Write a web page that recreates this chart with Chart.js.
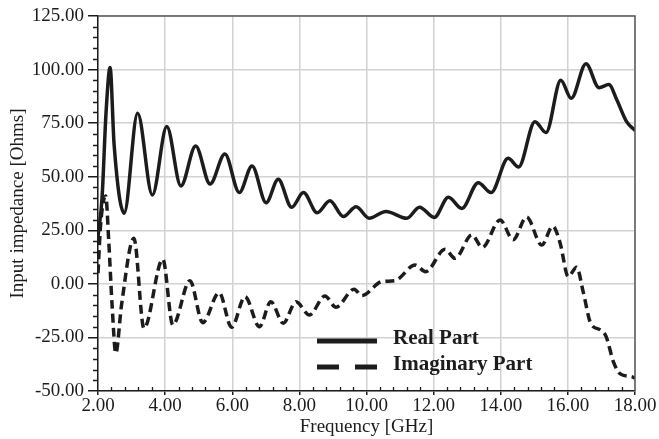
<!DOCTYPE html>
<html>
<head>
<meta charset="utf-8">
<title>Input impedance</title>
<script src="https://cdn.jsdelivr.net/npm/chart.js@4.4.1/dist/chart.umd.min.js"></script>
<style>
  html, body { margin: 0; padding: 0; background: #fff; }
  #wrap { width: 659px; height: 439px; }
</style>
</head>
<body>
<div id="wrap"><canvas id="impedanceChart" width="659" height="439"></canvas></div>
<script>
// Real part of the input impedance (GHz, Ohms)
const realFreq = [
  2.00, 2.12, 2.24, 2.36, 2.48, 2.78, 3.18, 3.62, 4.05, 4.47, 4.91, 5.34,
  5.78, 6.21, 6.59, 7.01, 7.37, 7.77, 8.12, 8.53, 8.91, 9.31, 9.69, 10.08,
  10.58, 11.20, 11.58, 12.02, 12.44, 12.84, 13.33, 13.71, 14.22, 14.53,
  15.02, 15.35, 15.79, 16.10, 16.54, 16.93, 17.22, 17.46, 17.75, 18.00
];
const realOhms = [
  22, 40, 80, 101, 65, 33, 79.6, 41.5, 73.4, 45.7, 64.3, 46.6,
  60.6, 42.6, 55.0, 37.9, 48.8, 35.7, 42.6, 33.2, 38.8, 31.4, 36.0, 30.6,
  33.8, 30.6, 35.8, 31.0, 40.4, 35.2, 47.2, 42.6, 58.6, 54.5,
  75.7, 70.6, 95.0, 86.6, 102.7, 91.5, 93.0, 85.8, 75.7, 71.6
];

// Imaginary part of the input impedance (GHz, Ohms)
const imagFreq = [
  2.00, 2.08, 2.23, 2.32, 2.42, 2.53, 2.70, 3.07, 3.37, 3.93, 4.23, 4.74,
  5.12, 5.61, 5.98, 6.38, 6.81, 7.15, 7.52, 7.90, 8.30, 8.76, 9.09, 9.63,
  9.86, 10.45, 10.85, 11.45, 11.76, 12.34, 12.64, 13.14, 13.45, 13.98,
  14.37, 14.77, 15.22, 15.55, 15.77, 16.01, 16.26, 16.46, 16.68, 16.98,
  17.14, 17.36, 17.56, 17.90, 18.00
];
const imagOhms = [
  5, 28, 41, 20, -10, -32.4, -10, 21.3, -20.8, 11.5, -19.2, 1.5,
  -18.1, -4.1, -20.3, -6.0, -20.0, -8.3, -18.4, -8.3, -14.5, -5.7, -10.9, -2.5,
  -5.5, 1.0, 1.5, 8.8, 5.7, 16.1, 11.9, 22.8, 17.0, 29.8,
  20.6, 31.2, 18.1, 26.9, 19.0, 3.4, 7.8, -4.0, -18.4, -21.6,
  -24.6, -36.5, -42.0, -43.3, -44.0
];

// Axis ticks
const freqTicks = [2, 4, 6, 8, 10, 12, 14, 16, 18];
const ohmTicks = [-50, -25, 0, 25, 50, 75, 100, 125];
const seriesNames = ["Real Part", "Imaginary Part"];

const ink = "#1c1c1c";
const tickFont = { family: "'Liberation Serif', 'DejaVu Serif', serif", size: 19 };

function toPoints(xs, ys) {
  return xs.map((x, i) => ({ x: x, y: ys[i] }));
}

// Minor ticks on both axes plus the dark frame on top and right
const frameTicks = {
  id: "frameTicks",
  afterDraw(chart) {
    const { ctx, chartArea: a, scales } = chart;
    const x = scales.x, y = scales.y;
    ctx.save();
    ctx.strokeStyle = ink;
    ctx.lineWidth = 1.3;
    ctx.beginPath();
    for (let v = -50; v <= 125; v += 5) {
      if (v % 25 === 0) continue;
      const py = Math.round(y.getPixelForValue(v)) + 0.5;
      ctx.moveTo(a.left - 5, py);
      ctx.lineTo(a.left, py);
    }
    for (let i = 0; i <= 40; i++) {
      if (i % 5 === 0) continue;
      const px = Math.round(x.getPixelForValue(2 + i * 0.4)) + 0.5;
      ctx.moveTo(px, a.bottom);
      ctx.lineTo(px, a.bottom - 4);
    }
    ctx.stroke();
    ctx.strokeStyle = "#5a5a5a";
    ctx.lineWidth = 1.5;
    ctx.beginPath();
    ctx.moveTo(a.left, a.top);
    ctx.lineTo(a.right, a.top);
    ctx.lineTo(a.right, a.bottom);
    ctx.stroke();
    ctx.restore();
  },
};

// Legend drawn inside the plot, below the curves
const insetLegend = {
  id: "insetLegend",
  afterDraw(chart, args, opts) {
    const { ctx, chartArea: a } = chart;
    const x0 = a.left + opts.left;
    ctx.save();
    chart.data.datasets.forEach((ds, i) => {
      const yy = a.top + opts.top + i * opts.rowGap;
      ctx.strokeStyle = ds.borderColor;
      ctx.lineWidth = opts.lineWidth;
      ctx.setLineDash(ds.borderDash ? opts.dash : []);
      ctx.beginPath();
      ctx.moveTo(x0, yy);
      ctx.lineTo(x0 + opts.lineLength, yy);
      ctx.stroke();
      ctx.setLineDash([]);
      ctx.fillStyle = ink;
      ctx.font = "bold 21px 'Liberation Serif', serif";
      ctx.textBaseline = "middle";
      ctx.fillText(ds.label, x0 + opts.lineLength + 16, yy - 2);
    });
    ctx.restore();
  },
};

const ctx = document.getElementById("impedanceChart").getContext("2d");
const impedanceChart = new Chart(ctx, {
  type: "line",
  data: {
    datasets: [
      {
        label: seriesNames[0],
        data: toPoints(realFreq, realOhms),
        borderColor: ink,
        borderWidth: 3.5,
        pointRadius: 0,
        cubicInterpolationMode: "monotone",
        fill: false,
      },
      {
        label: seriesNames[1],
        data: toPoints(imagFreq, imagOhms),
        borderColor: ink,
        borderWidth: 3.5,
        borderDash: [9, 5],
        pointRadius: 0,
        cubicInterpolationMode: "monotone",
        fill: false,
      },
    ],
  },
  options: {
    responsive: false,
    animation: false,
    devicePixelRatio: 1,
    layout: { padding: { top: 16, right: 24, left: 0, bottom: 0 } },
    plugins: {
      legend: { display: false },
      tooltip: { enabled: false },
      insetLegend: { left: 219, top: 325, rowGap: 26, lineLength: 60, lineWidth: 5, dash: [22, 16] },
    },
    scales: {
      x: {
        type: "linear",
        min: 2,
        max: 18,
        afterBuildTicks: (s) => { s.ticks = freqTicks.map((v) => ({ value: v })); },
        afterFit: (s) => { s.height = 48; },
        ticks: {
          callback: (v) => v.toFixed(2),
          font: tickFont,
          color: ink,
          padding: 0,
          maxRotation: 0,
          autoSkip: false,
        },
        grid: { color: "#d2d2d2", lineWidth: 1.5, tickLength: 4, tickColor: ink },
        border: { color: ink, width: 1.5 },
        title: {
          display: true,
          text: "Frequency [GHz]",
          font: tickFont,
          color: ink,
          padding: { top: 0, bottom: 1 },
        },
      },
      y: {
        min: -50,
        max: 125,
        afterBuildTicks: (s) => { s.ticks = ohmTicks.map((v) => ({ value: v })); },
        afterFit: (s) => { s.width = 98; },
        ticks: {
          callback: (v) => v.toFixed(2),
          font: tickFont,
          color: ink,
          padding: 4,
        },
        grid: { color: "#d2d2d2", lineWidth: 1.5, tickLength: 10, tickColor: ink },
        border: { color: ink, width: 1.5 },
        title: {
          display: true,
          text: "Input impedance [Ohms]",
          font: tickFont,
          color: ink,
          padding: { top: 7, bottom: 0 },
        },
      },
    },
  },
  plugins: [frameTicks, insetLegend],
});
</script>
</body>
</html>
